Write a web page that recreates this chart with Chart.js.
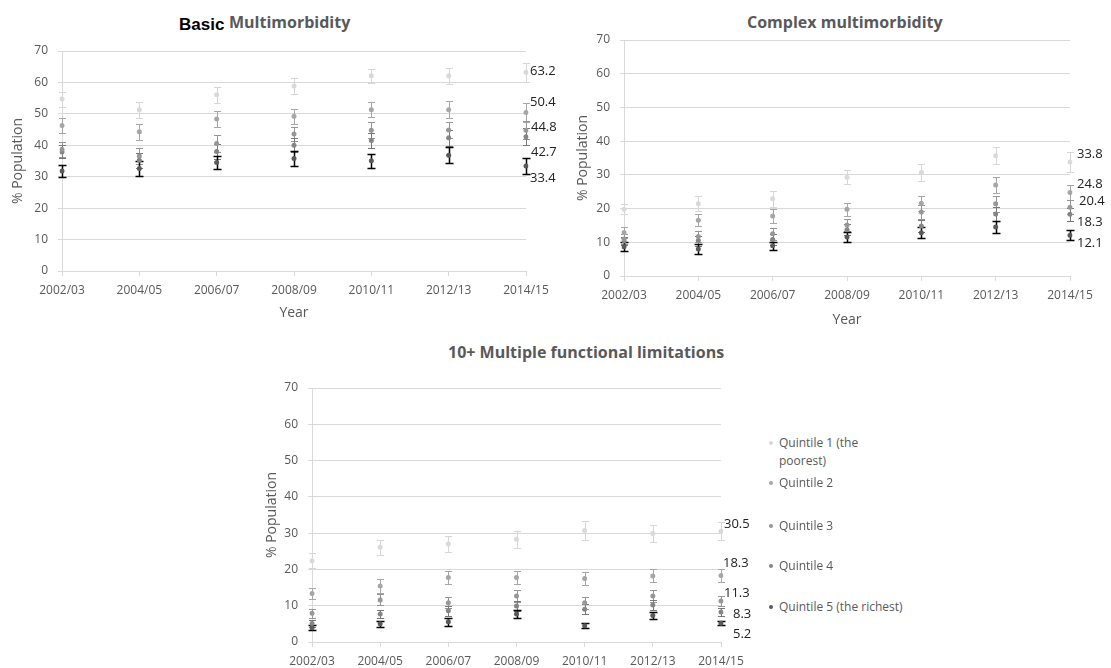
<!DOCTYPE html>
<html>
<head>
<meta charset="utf-8">
<script src="https://cdn.jsdelivr.net/npm/chart.js@4.4.0/dist/chart.umd.min.js"></script>
<style>
  body { margin: 0; background: #fff; }
  #page { position: relative; width: 1111px; height: 668px; overflow: hidden; font-family: "Open Sans", sans-serif; }
  .box { position: absolute; }
  .title { position: absolute; font-weight: bold; font-size: 16px; line-height: 16px; color: #595959; white-space: nowrap; }
  .basic { position: absolute; font-family: "Liberation Sans", Arial, sans-serif; font-weight: bold; font-size: 17px; line-height: 17px; color: #000; }
  .leg { position: absolute; left: 779px; font-size: 12px; line-height: 18px; color: #595959; }
  .leg i { position: absolute; left: -10px; top: 7px; width: 4px; height: 4px; border-radius: 50%; }
</style>
</head>
<body>
<div id="page">
  <div class="basic" style="left:179px; top:16px">Basic</div>
  <div class="title" style="left:229px; top:14px">Multimorbidity</div>
  <div class="title" style="left:747px; top:14px">Complex multimorbidity</div>
  <div class="title" style="left:448px; top:344px">10+ Multiple functional limitations</div>

  <div class="box" style="left:0; top:0; width:570px; height:325px"><canvas id="basicChart"></canvas></div>
  <div class="box" style="left:565px; top:0; width:546px; height:332px"><canvas id="complexChart"></canvas></div>
  <div class="box" style="left:254px; top:340px; width:516px; height:328px"><canvas id="flChart"></canvas></div>
  <div id="legend"></div>
</div>

<script>
const YEARS = ["2002/03", "2004/05", "2006/07", "2008/09", "2010/11", "2012/13", "2014/15"];
const SERIES = ["Quintile 1 (the poorest)", "Quintile 2", "Quintile 3", "Quintile 4", "Quintile 5 (the richest)"];
const Y_TICKS = [0, 10, 20, 30, 40, 50, 60, 70];

// Basic multimorbidity (% population) and error half-widths
const basicQ1 = [54.7, 51.3, 56.1, 58.9, 62.1, 62.1, 63.2];
const basicQ2 = [46.3, 44.3, 48.4, 49.2, 51.3, 51.3, 50.4];
const basicQ3 = [38.7, 36.6, 40.6, 43.6, 44.8, 44.9, 44.8];
const basicQ4 = [37.9, 35.2, 38.0, 40.0, 41.5, 42.4, 42.7];
const basicQ5 = [31.8, 32.6, 34.5, 35.8, 35.1, 36.8, 33.4];
const basicErr1 = [2.4, 2.5, 2.6, 2.5, 2.3, 2.5, 3.1];
const basicErr2 = [2.4, 2.6, 2.6, 2.4, 2.4, 2.7, 3.0];
const basicErr3 = [2.3, 2.4, 2.6, 2.3, 2.5, 2.6, 2.8];
const basicErr4 = [2.1, 2.3, 2.4, 2.2, 2.3, 2.5, 2.7];
const basicErr5 = [1.9, 2.3, 2.1, 2.3, 2.2, 2.5, 2.5];

// Complex multimorbidity
const complexQ1 = [19.8, 21.4, 22.9, 29.3, 30.7, 35.7, 33.8];
const complexQ2 = [12.9, 16.5, 17.8, 19.8, 21.6, 27.0, 24.8];
const complexQ3 = [11.0, 11.7, 12.5, 15.1, 19.0, 21.4, 20.4];
const complexQ4 = [10.4, 10.5, 10.8, 13.7, 14.8, 18.4, 18.3];
const complexQ5 = [8.7, 8.0, 9.0, 11.6, 12.8, 14.5, 12.1];
const complexErr1 = [1.5, 2.2, 2.3, 2.1, 2.5, 2.6, 2.9];
const complexErr2 = [1.6, 1.8, 2.0, 1.9, 2.2, 2.5, 2.3];
const complexErr3 = [1.5, 1.6, 1.8, 1.8, 2.0, 2.3, 2.0];
const complexErr4 = [1.3, 1.5, 1.6, 1.6, 1.8, 2.0, 1.9];
const complexErr5 = [1.3, 1.4, 1.2, 1.4, 1.6, 1.7, 1.4];

// 10+ multiple functional limitations
const flQ1 = [22.4, 26.1, 27.0, 28.3, 30.7, 29.9, 30.5];
const flQ2 = [13.4, 15.4, 17.8, 17.8, 17.5, 18.2, 18.3];
const flQ3 = [7.9, 11.6, 10.8, 12.7, 10.8, 12.7, 11.3];
const flQ4 = [5.1, 7.7, 8.6, 9.9, 9.0, 10.2, 8.3];
const flQ5 = [3.9, 5.0, 5.6, 7.7, 4.5, 7.3, 5.2];
const flErr1 = [2.0, 2.0, 2.3, 2.4, 2.6, 2.4, 2.5];
const flErr2 = [1.5, 1.9, 1.8, 1.8, 1.8, 1.8, 1.7];
const flErr3 = [1.2, 1.5, 1.5, 1.7, 1.6, 1.6, 1.5];
const flErr4 = [1.0, 1.2, 1.3, 1.4, 1.4, 1.3, 1.2];
const flErr5 = [0.7, 0.8, 1.1, 1.1, 0.7, 0.9, 0.6];

const POINT_COLORS = ["#d9d9d9", "#a6a6a6", "#979797", "#858585", "#595959"];
const BAR_COLORS = ["#d6d6d6", "#a6a6a6", "#959595", "#777777", "#000000"];
const GRID = "#d9d9d9";
const TEXT = "#595959";

// vertical error bars with caps, drawn under the markers
const errorBars = {
  id: "errorBars",
  beforeDatasetsDraw(chart) {
    const { ctx } = chart;
    const y = chart.scales.y;
    chart.data.datasets.forEach((ds, i) => {
      const meta = chart.getDatasetMeta(i);
      ctx.save();
      ctx.strokeStyle = ds.errorColor;
      ctx.lineWidth = ds.errorWidth;
      meta.data.forEach((pt, j) => {
        const v = ds.data[j], e = ds.errors[j];
        const top = Math.round(y.getPixelForValue(v + e)) + 0.5;
        const bot = Math.round(y.getPixelForValue(v - e)) + 0.5;
        const x = Math.round(pt.x) + 0.5, c = ds.capHalf;
        ctx.beginPath();
        ctx.moveTo(x, top); ctx.lineTo(x, bot);
        ctx.moveTo(x - c, top); ctx.lineTo(x + c, top);
        ctx.moveTo(x - c, bot); ctx.lineTo(x + c, bot);
        ctx.stroke();
      });
      ctx.restore();
    });
  },
};

// value of the last year written at the right edge of the plot
const endLabels = {
  id: "endLabels",
  afterDatasetsDraw(chart, args, opts) {
    const { ctx, chartArea } = chart;
    const y = chart.scales.y;
    ctx.save();
    ctx.font = "13px 'Open Sans'";
    ctx.fillStyle = "#222";
    ctx.textAlign = "left";
    ctx.textBaseline = "middle";
    chart.data.datasets.forEach((ds, i) => {
      const v = ds.data[ds.data.length - 1];
      const [dx, dy] = opts.offsets[i];
      ctx.fillText(v.toFixed(1), chartArea.right + dx, y.getPixelForValue(v) + dy);
    });
    ctx.restore();
  },
};

function makeChart(id, values, errors, cfg) {
  return new Chart(document.getElementById(id), {
    type: "line",
    data: {
      labels: YEARS,
      datasets: values.map((data, i) => ({
        label: SERIES[i],
        data,
        errors: errors[i],
        showLine: false,
        pointRadius: 2.5,
        pointHoverRadius: 2.5,
        pointBorderWidth: 0,
        pointBackgroundColor: POINT_COLORS[i],
        errorColor: BAR_COLORS[i],
        errorWidth: i === 4 ? 1.5 : 1,
        capHalf: i === 4 ? 4 : 3.5,
      })),
    },
    options: {
      responsive: true,
      maintainAspectRatio: false,
      animation: false,
      layout: { padding: { left: 0, top: cfg.top, right: cfg.right, bottom: 0 } },
      plugins: {
        legend: { display: false },
        tooltip: { enabled: false },
        endLabels: { offsets: cfg.offsets },
      },
      scales: {
        x: {
          grid: { drawOnChartArea: false, drawTicks: true, tickLength: 5, color: GRID },
          border: { color: GRID },
          ticks: { color: TEXT, font: { family: "Open Sans", size: 12 }, padding: 7, maxRotation: 0, autoSkip: false },
          title: { display: cfg.xTitle, text: "Year", color: TEXT, font: { family: "Open Sans", size: 14 }, padding: { top: 0, bottom: 4 } },
          afterFit: (s) => { s.height = cfg.xHeight; },
        },
        y: {
          min: 0,
          max: 70,
          afterBuildTicks: (s) => { s.ticks = Y_TICKS.map((v) => ({ value: v })); },
          grid: { color: GRID, tickLength: 4 },
          border: { color: GRID },
          ticks: { color: TEXT, font: { family: "Open Sans", size: 12 }, padding: 10 },
          title: { display: true, text: "% Population", color: TEXT, font: { family: "Open Sans", size: 14 }, padding: { top: 10, bottom: 0 } },
          afterFit: (s) => { s.width = cfg.yWidth; },
        },
      },
    },
    plugins: [errorBars, endLabels],
  });
}

makeChart("basicChart",
  [basicQ1, basicQ2, basicQ3, basicQ4, basicQ5],
  [basicErr1, basicErr2, basicErr3, basicErr4, basicErr5],
  { top: 51, right: 44, yWidth: 62, xHeight: 54, xTitle: true,
    offsets: [[4, -1], [4, -10], [5, -2.5], [5, 15], [4, 12]] });

makeChart("complexChart",
  [complexQ1, complexQ2, complexQ3, complexQ4, complexQ5],
  [complexErr1, complexErr2, complexErr3, complexErr4, complexErr5],
  { top: 40, right: 41, yWidth: 59, xHeight: 56, xTitle: true,
    offsets: [[7, -8], [7, -8], [9, -6], [7, 8], [7, 8]] });

makeChart("flChart",
  [flQ1, flQ2, flQ3, flQ4, flQ5],
  [flErr1, flErr2, flErr3, flErr4, flErr5],
  { top: 48, right: 49, yWidth: 58, xHeight: 26, xTitle: false,
    offsets: [[3, -7], [2, -12], [3, -8], [12, 2], [12, 11]] });

// legend beside the bottom chart
const LEGEND_TOPS = [434, 474, 517, 557, 598];
const legend = document.getElementById("legend");
SERIES.forEach((name, i) => {
  const d = document.createElement("div");
  d.className = "leg";
  d.style.top = LEGEND_TOPS[i] + "px";
  if (i === 0) d.style.width = "100px";
  d.innerHTML = `<i style="background:${POINT_COLORS[i]}"></i>${name}`;
  legend.appendChild(d);
});
</script>
</body>
</html>
